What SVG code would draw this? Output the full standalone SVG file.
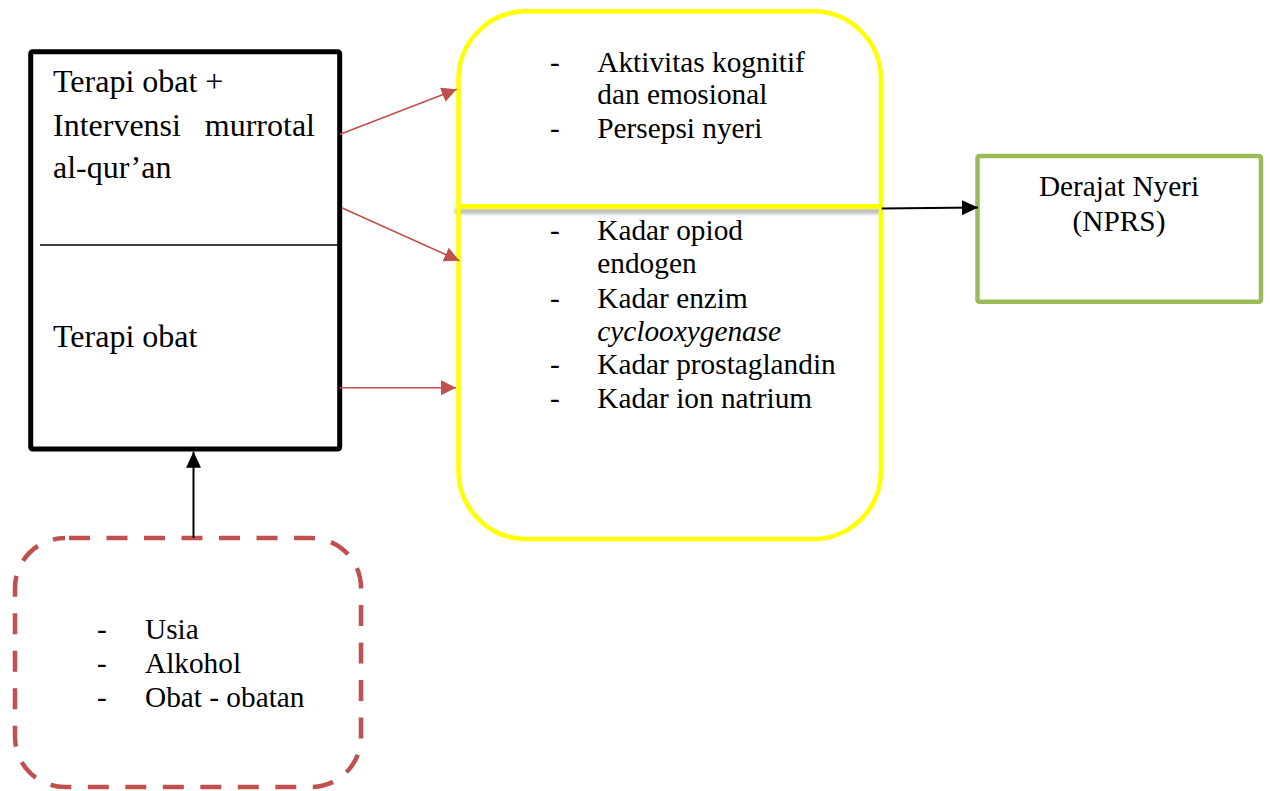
<svg xmlns="http://www.w3.org/2000/svg" width="1270" height="791" viewBox="0 0 1270 791">
  <style>
    .txt { font-family: "Liberation Serif", "Times New Roman", serif; fill: #000; }
    .big { font-size: 32px; }
    .mid { font-size: 29.3px; }
    .red { stroke: #C0504D; stroke-width: 1.6; fill: none; }
    .blk { stroke: #000; stroke-width: 2; fill: none; }
  </style>
  <defs>
    <marker id="redHead" markerUnits="userSpaceOnUse" markerWidth="16" markerHeight="16" refX="15" refY="7.5" orient="auto">
      <path d="M0,0 L15,7.5 L0,15 Z" fill="#C0504D"/>
    </marker>
    <marker id="blkHead" markerUnits="userSpaceOnUse" markerWidth="18" markerHeight="18" refX="16" refY="7.5" orient="auto">
      <path d="M0,0 L16,7.5 L0,15 Z" fill="#000"/>
    </marker>
    <filter id="soft" filterUnits="userSpaceOnUse" x="440" y="195" width="460" height="35">
      <feGaussianBlur stdDeviation="1.5"/>
    </filter>
  </defs>

  <rect width="1270" height="791" fill="#fff"/>

  <!-- Treatment groups -->
  <g id="node-treatment">
    <rect x="30.7" y="51.7" width="309" height="397.3" rx="2" fill="#fff" stroke="#000" stroke-width="5"/>
    <line x1="40" y1="245" x2="338" y2="245" stroke="#000" stroke-width="1.6"/>
    <text class="txt big" x="53" y="92">Terapi obat +</text>
    <text class="txt big" x="53" y="135.5">Intervensi</text>
    <text class="txt big" x="315" y="135.5" text-anchor="end">murrotal</text>
    <text class="txt big" x="53" y="177.5">al-qur’an</text>
    <text class="txt big" x="53" y="347.3">Terapi obat</text>
  </g>

  <!-- Mechanisms -->
  <g id="node-mechanism">
    <rect x="458.5" y="11.3" width="422.5" height="527.7" rx="68" ry="68" fill="#fff"/>
    <!-- soft shadow under the dividing bar -->
    <rect x="455" y="208.5" width="425" height="5.5" fill="#bdbdbd" filter="url(#soft)"/>
    <rect x="458.5" y="11.3" width="422.5" height="527.7" rx="68" ry="68" fill="none" stroke="#FFFF00" stroke-width="4.5"/>
    <line x1="457" y1="206.5" x2="882" y2="206.5" stroke="#FFFF00" stroke-width="5"/>
    <g class="txt mid">
      <text x="550" y="71.7">-</text>
      <text x="597.3" y="71.7">Aktivitas kognitif</text>
      <text x="597.3" y="104.3">dan emosional</text>
      <text x="550" y="137.7">-</text>
      <text x="597.3" y="137.7">Persepsi nyeri</text>
      <text x="550" y="240">-</text>
      <text x="597.3" y="240">Kadar opiod</text>
      <text x="597.3" y="273.3">endogen</text>
      <text x="550" y="307.7">-</text>
      <text x="597.3" y="307.7">Kadar enzim</text>
      <text x="597.3" y="340.7" font-style="italic">cyclooxygenase</text>
      <text x="550" y="374.3">-</text>
      <text x="597.3" y="374.3">Kadar prostaglandin</text>
      <text x="550" y="408.3">-</text>
      <text x="597.3" y="408.3">Kadar ion natrium</text>
    </g>
  </g>

  <!-- Outcome -->
  <g id="node-outcome">
    <rect x="977.5" y="156" width="283.5" height="145.7" rx="2" fill="#fff" stroke="#9BBB59" stroke-width="4.5"/>
    <text class="txt mid" x="1119" y="196" text-anchor="middle">Derajat Nyeri</text>
    <text class="txt mid" x="1119" y="230.7" text-anchor="middle">(NPRS)</text>
  </g>

  <!-- Confounding factors -->
  <g id="node-confounders">
    <rect x="15" y="538" width="346" height="249" rx="50" ry="50" fill="#fff" stroke="#C0504D" stroke-width="4.5" stroke-dasharray="21 16.5" stroke-dashoffset="-4"/>
    <g class="txt mid">
      <text x="97" y="639.3">-</text>
      <text x="145" y="639.3">Usia</text>
      <text x="97" y="672.7">-</text>
      <text x="145" y="672.7">Alkohol</text>
      <text x="97" y="706.7">-</text>
      <text x="145" y="706.7">Obat - obatan</text>
    </g>
  </g>

  <!-- Connectors -->
  <g id="connectors">
    <line class="red" x1="340" y1="134.3" x2="456.7" y2="89.3" marker-end="url(#redHead)"/>
    <line class="red" x1="341.7" y1="207.7" x2="459.3" y2="260.7" marker-end="url(#redHead)"/>
    <line class="red" x1="340" y1="387.7" x2="456" y2="387.7" marker-end="url(#redHead)"/>
    <line class="blk" x1="881.7" y1="208.5" x2="978" y2="207.5" marker-end="url(#blkHead)"/>
    <line class="blk" x1="193.5" y1="538" x2="193.5" y2="451.7" marker-end="url(#blkHead)"/>
  </g>
</svg>
